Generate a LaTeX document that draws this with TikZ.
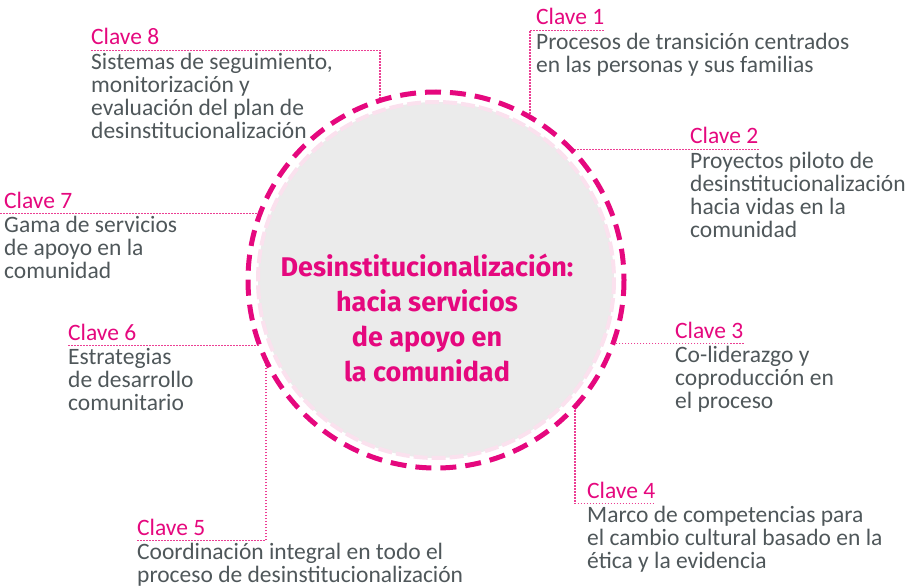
\documentclass[tikz,border=0pt]{standalone}
\usepackage{fontspec}
\setmainfont{Carlito}
\newfontfamily\roundfont{Fira Sans}
\definecolor{clavepink}{HTML}{E5087E}
\definecolor{dotpink}{HTML}{EC3F94}
\definecolor{textgrey}{HTML}{4F575A}
\definecolor{discgrey}{HTML}{EBEBEB}
\definecolor{ringpink}{HTML}{FBE1EE}
\tikzset{
  clave/.style={anchor=base west, inner xsep=0pt, inner ysep=5pt, text=clavepink,
    font=\fontsize{23.5}{23}\selectfont},
  desc/.style={anchor=north west, inner sep=0pt, align=left, text=textgrey,
    font=\fontsize{23.5}{23}\selectfont, execute at begin node=\rule{0pt}{20pt}},
  leader/.style={dotpink, line width=1.2pt, dash pattern=on 1.5pt off 1.5pt},
}
\begin{document}
\begin{tikzpicture}[x=1pt,y=-1pt]
         \useasboundingbox (0,0) rectangle (918,588);
         % circle and points on it
         \coordinate (O) at (436,280);
         \coordinate (p1) at (530,117);
         \coordinate (p2) at (571,149);
         \coordinate (p3) at (613,343);
         \coordinate (p4) at (575,407);
         \coordinate (p5) at (266,360);
         \coordinate (p6) at (260,346);
         \coordinate (p7) at (260,213);
         \coordinate (p8) at (380,100);
         % labels
         \node[clave] (k1) at (536,25) {Clave 1};
         \node[desc] (d1) at (536,33) {Procesos de transición centrados\\en las personas y sus familias};
         \node[clave] (k2) at (690,144) {Clave 2};
         \node[desc] (d2) at (690,152) {Proyectos piloto de\\desinstitucionalización\\hacia vidas en la\\comunidad};
         \node[clave] (k3) at (675,338) {Clave 3};
         \node[desc] (d3) at (675,346) {Co-liderazgo y\\coproducción en\\el proceso};
         \node[clave] (k4) at (587,498) {Clave 4};
         \node[desc] (d4) at (587,506) {Marco de competencias para\\el cambio cultural basado en la\\ética y la evidencia};
         \node[clave] (k5) at (137,535) {Clave 5};
         \node[desc] (d5) at (137,543) {Coordinación integral en todo el\\proceso de desinstitucionalización};
         \node[clave] (k6) at (68,340) {Clave 6};
         \node[desc] (d6) at (68,348) {Estrategias\\de desarrollo\\comunitario};
         \node[clave] (k7) at (4,208) {Clave 7};
         \node[desc] (d7) at (4,216) {Gama de servicios\\de apoyo en la\\comunidad};
         \node[clave] (k8) at (91,45) {Clave 8};
         \node[desc] (d8) at (91,53) {Sistemas de seguimiento,\\monitorización y\\evaluación del plan de\\desinstitucionalización};
         % leaders
         \draw[leader] (p1) |- (k1.south east);
         \draw[leader] (p2 |- k2.south) -- (k2.south east);
         \draw[leader] (k3.south east) -- (k3.south east -| p3);
         \draw[leader] (p4) |- (k4.south east);
         \draw[leader] (k5.south west) -| (p5);
         \draw[leader] (k6.south west) -- (k6.south west -| p6);
         \draw[leader] ([xshift=-4pt]k7.south west) -- (k7.south west -| p7);
         \draw[leader] (k8.south west) -| (p8);
         % the disc
         \fill[discgrey] (O) circle (178);
         \draw[ringpink, line width=4pt, dash pattern=on 14pt off 4pt] (O) circle (178);
         \draw[clavepink, line width=5pt, dash pattern=on 16pt off 9pt] (O) circle (188);
         \node[align=center, text=clavepink, font=\roundfont\bfseries\fontsize{27}{35}\selectfont] (title) at (427,318)
            {Desinstitucionalización:\\hacia servicios\\de apoyo en\\la comunidad};
      \end{tikzpicture}
\end{document}
